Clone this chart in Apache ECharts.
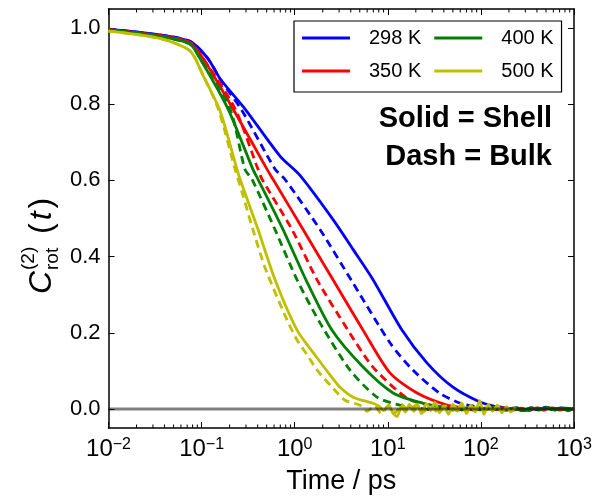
<!DOCTYPE html>
<html>
<head>
<meta charset="utf-8">
<script src="https://cdn.jsdelivr.net/npm/echarts@6/dist/echarts.min.js"></script>
<style>
html,body{margin:0;padding:0;background:#fff;}
#chart{width:602px;height:502px;}
</style>
</head>
<body>
<div id="chart"></div>
<script>
const FONT = '"Liberation Sans", Arial, sans-serif';

// axis ticks
const xTicks = [0.01, 0.1, 1, 10, 100, 1000];
const xMinorTicks = [0.02,0.03,0.04,0.05,0.06,0.07,0.08,0.09,
  0.2,0.3,0.4,0.5,0.6,0.7,0.8,0.9, 2,3,4,5,6,7,8,9,
  20,30,40,50,60,70,80,90, 200,300,400,500,600,700,800,900];
const yTicks = [0.0, 0.2, 0.4, 0.6, 0.8, 1.0];
const X_MIN = 0.01, X_MAX = 1000, Y_MIN = -0.05, Y_MAX = 1.05;

const legendNames = ['298 K', '400 K', '350 K', '500 K'];

// 298 K
const t298Shell = [0.01,0.0355,0.075,0.117,0.158,0.292,0.695,1.14,2.71,4.23,6.92,14.2,26.3,50.1,97.7,141,
  170,200,240,290,350,420,500,600,720,860,1000];
const c298Shell = [0.997,0.982,0.965,0.920,0.867,0.788,0.664,0.613,0.490,0.419,0.340,0.207,0.121,0.057,0.018,0.007,
  0.004,-0.002,0.003,-0.004,0.002,-0.003,0.005,-0.002,0.003,-0.004,0.002];
const t298Bulk = [0.01,0.0355,0.075,0.117,0.158,0.272,0.614,0.785,1.87,4.03,10.6,18.6,36.3,60.3,93.3,
  120,150,190,230,280,340,410,500,600,730,860,1000];
const c298Bulk = [0.997,0.982,0.965,0.920,0.866,0.783,0.630,0.603,0.471,0.339,0.173,0.102,0.041,0.015,0.005,
  -0.002,0.003,-0.003,0.002,-0.004,0.003,-0.002,0.004,-0.003,0.002,-0.003,0.002];

// 350 K
const t350Shell = [0.01,0.0355,0.075,0.104,0.217,0.505,0.585,1.23,2.58,5.42,10.6,20.6,43.3,67.6,
  85,110,140,180,220,270,330,400,480,580,700,840,1000];
const c350Shell = [0.996,0.980,0.962,0.920,0.788,0.629,0.603,0.471,0.339,0.207,0.094,0.042,0.010,0.002,
  -0.003,0.002,-0.002,0.004,-0.003,0.002,-0.004,0.003,-0.002,0.003,-0.003,0.002,-0.002];
const t350Bulk = [0.01,0.0355,0.075,0.104,0.229,0.404,0.446,0.936,1.74,3.73,6.93,16.1,28.4,46.8,
  60,80,105,135,175,225,290,370,470,600,780,1000];
const c350Bulk = [0.996,0.980,0.962,0.920,0.788,0.629,0.603,0.471,0.339,0.207,0.110,0.028,0.010,0.002,
  -0.003,0.002,-0.002,0.003,-0.004,0.002,-0.002,0.003,-0.003,0.002,-0.002,0.003];

// 400 K
const t400Shell = [0.01,0.0355,0.075,0.0962,0.192,0.356,0.404,0.750,1.32,2.51,5.42,11.4,23.9,41.2,
  55,75,100,130,170,220,280,350,430,520,620,740,870,1000];
const c400Shell = [0.995,0.978,0.958,0.920,0.788,0.629,0.603,0.471,0.339,0.207,0.110,0.042,0.015,0.004,
  -0.003,0.003,-0.002,0.004,-0.003,0.002,-0.004,0.003,-0.002,0.004,-0.003,0.002,-0.004,0.002];
const t400Bulk = [0.01,0.0355,0.075,0.0962,0.202,0.292,0.348,0.614,1.06,1.87,3.93,7.66,13.5,22.2,
  30,40,55,75,100,135,180,240,320,420,560,750,1000];
const c400Bulk = [0.995,0.978,0.958,0.920,0.788,0.629,0.603,0.471,0.339,0.226,0.102,0.031,0.010,0.002,
  -0.003,0.002,-0.002,0.003,-0.003,0.002,-0.002,0.003,-0.003,0.002,-0.002,0.003,-0.002];

// 500 K
const t500Shell = [0.01,0.0355,0.0751,0.104,0.158,0.240,0.259,0.404,0.615,1.06,1.66,2.51,3.07,4.23,6.92,
  8,9,10.2,11.4,12.6,14,15.5,17,19,21,23,26,29,32,36,40,45,50,56,62,70,78,87,97,108,120,134,150,168,188,210,235,262];
const c500Shell = [0.992,0.973,0.940,0.875,0.782,0.629,0.603,0.471,0.339,0.207,0.141,0.083,0.057,0.031,0.015,
  0.008,-0.004,0.010,-0.012,-0.020,0.006,-0.008,0.012,-0.006,0.010,-0.012,0.014,-0.004,0.018,-0.010,0.008,-0.014,0.012,-0.006,0.016,-0.012,0.010,-0.008,0.022,-0.014,0.012,-0.006,0.010,-0.010,0.006,-0.008,0.004];
const t500Bulk = [0.01,0.0355,0.0751,0.104,0.151,0.229,0.272,0.356,0.480,0.826,1.06,1.36,1.74,2.59,3.47,5.01,
  6,7.2,8.5,10,12,14,17,20,24,29,35,42,50,60,72,86,100];
const c500Bulk = [0.992,0.973,0.940,0.875,0.788,0.629,0.569,0.471,0.371,0.234,0.181,0.142,0.102,0.054,0.023,0.010,
  -0.006,0.008,-0.012,0.006,-0.010,0.012,-0.006,0.010,-0.008,0.006,-0.010,0.008,-0.004,0.010,-0.006,0.004,-0.002];

const COLORS = {'298 K':'#0000ff','350 K':'#ff0000','400 K':'#008000','500 K':'#bfbf00'};

function zip(t, c){ return t.map((v,i)=>[v, c[i]]); }
function mkSeries(name, t, c, dashed){
  const col = COLORS[dashed ? name.replace(' bulk','') : name];
  return {
    type:'line', name: name, data: zip(t,c), showSymbol:false, symbol:'none',
    xAxisIndex:0, yAxisIndex:0, smooth:0.25,
    lineStyle:{color: col, width:2.8, type: dashed ? [8,5] : 'solid'},
    itemStyle:{color: col},
    emphasis:{disabled:true}, animation:false, z:2
  };
}

const series = [
  mkSeries('298 K bulk', t298Bulk, c298Bulk, true),
  mkSeries('298 K', t298Shell, c298Shell, false),
  mkSeries('350 K bulk', t350Bulk, c350Bulk, true),
  mkSeries('350 K', t350Shell, c350Shell, false),
  mkSeries('400 K bulk', t400Bulk, c400Bulk, true),
  mkSeries('400 K', t400Shell, c400Shell, false),
  mkSeries('500 K bulk', t500Bulk, c500Bulk, true),
  mkSeries('500 K', t500Shell, c500Shell, false),
  {
    type:'custom', name:'minorTicks', xAxisIndex:0, yAxisIndex:0, silent:true, animation:false, z:5,
    data: xMinorTicks.map(v=>[v, 0]), encode:{x:0, y:1},
    renderItem: function(params, api){
      const v = api.value(0);
      const b = api.coord([v, Y_MIN]);
      const t = api.coord([v, Y_MAX]);
      return {type:'group', children:[
        {type:'line', shape:{x1:b[0], y1:b[1], x2:b[0], y2:b[1]-3.5}, style:{stroke:'#000', lineWidth:1}},
        {type:'line', shape:{x1:t[0], y1:t[1], x2:t[0], y2:t[1]+3.5}, style:{stroke:'#000', lineWidth:1}}
      ]};
    }
  },
  {
    type:'custom', name:'zeroLine', xAxisIndex:0, yAxisIndex:0, silent:true, animation:false, z:6,
    data: [[X_MIN, 0]], encode:{x:0, y:1},
    renderItem: function(params, api){
      const a = api.coord([X_MIN, 0]);
      const b = api.coord([X_MAX, 0]);
      return {type:'line', shape:{x1:a[0], y1:a[1], x2:b[0], y2:b[1]}, style:{stroke:'rgba(0,0,0,0.5)', lineWidth:3}};
    }
  }
];

const axisLineStyle = {show:true, onZero:false, lineStyle:{color:'#000', width:1.5}};

const chart = echarts.init(document.getElementById('chart'), null, {renderer:'canvas'});
chart.setOption({
  animation:false,
  backgroundColor:'#fff',
  grid:{left:108.5, right:28, top:9, bottom:74, containLabel:false},
  xAxis:[
    {type:'log', logBase:10, min:X_MIN, max:X_MAX, position:'bottom',
     axisLine:axisLineStyle,
     axisTick:{show:true, inside:true, length:6, customValues:xTicks, lineStyle:{color:'#000', width:1}},
     splitLine:{show:false},
     axisLabel:{show:true, customValues:xTicks, margin:9, showMinLabel:true, showMaxLabel:true,
       formatter:function(v){ const e = Math.round(Math.log10(v)); return '{b|10}{s|' + (e<0 ? '\u2212'+(-e) : e) + '}'; },
       rich:{ b:{fontFamily:FONT, fontSize:24, color:'#000'}, s:{fontFamily:FONT, fontSize:16, color:'#000', verticalAlign:'top'} }
     },
     name:'Time / ps', nameLocation:'middle', nameGap:40,
     nameTextStyle:{fontFamily:FONT, fontSize:27, color:'#000'}
    },
    {type:'log', logBase:10, min:X_MIN, max:X_MAX, position:'top',
     axisLine:axisLineStyle,
     axisTick:{show:true, inside:true, length:6, customValues:xTicks, lineStyle:{color:'#000', width:1}},
     splitLine:{show:false}, axisLabel:{show:false}
    }
  ],
  yAxis:[
    {type:'value', min:Y_MIN, max:Y_MAX, position:'left',
     axisLine:axisLineStyle,
     axisTick:{show:true, inside:true, length:6, customValues:yTicks, lineStyle:{color:'#000', width:1}},
     splitLine:{show:false},
     axisLabel:{show:true, customValues:yTicks, margin:8, fontFamily:FONT, fontSize:22, color:'#000',
       formatter:function(v){ return v.toFixed(1); }}
    },
    {type:'value', min:Y_MIN, max:Y_MAX, position:'right',
     axisLine:axisLineStyle,
     axisTick:{show:true, inside:true, length:6, customValues:yTicks, lineStyle:{color:'#000', width:1}},
     splitLine:{show:false}, axisLabel:{show:false}
    }
  ],
  legend:{
    show:true, orient:'horizontal', left:294, top:21, width:268,
    padding:[7,8,11,8], itemGap:13, itemWidth:48, itemHeight:3,
    backgroundColor:'#fff', borderColor:'#000', borderWidth:1.2, borderRadius:0,
    selectedMode:false, icon:'rect',
    textStyle:{fontFamily:FONT, fontSize:20, color:'#000', lineHeight:20, padding:[0,0,0,14]},
    data: legendNames.map(n=>({name:n, icon:'rect'}))
  },
  graphic:[
    {type:'text', right:50, top:104, style:{text:'Solid = Shell', fontFamily:FONT, fontSize:29, fontWeight:'bold', fill:'#000'}},
    {type:'text', right:50, top:142, style:{text:'Dash = Bulk', fontFamily:FONT, fontSize:29, fontWeight:'bold', fill:'#000'}},
    {type:'group', x:42, y:294, rotation:Math.PI/2, children:[
      {type:'text', x:0, y:0, style:{text:'C', fontFamily:FONT, fontSize:32, fontStyle:'italic', fill:'#000', verticalAlign:'middle', align:'left'}},
      {type:'text', x:24, y:-13, style:{text:'(2)', fontFamily:FONT, fontSize:19, fill:'#000', verticalAlign:'middle', align:'left'}},
      {type:'text', x:24, y:11, style:{text:'rot', fontFamily:FONT, fontSize:19, fill:'#000', verticalAlign:'middle', align:'left'}},
      {type:'text', x:60, y:0, style:{text:'{n|(}{i|t}{n|)}', fontFamily:FONT, fontSize:32, fill:'#000', verticalAlign:'middle', align:'left',
        rich:{n:{fontFamily:FONT, fontSize:32, fill:'#000'}, i:{fontFamily:FONT, fontSize:32, fontStyle:'italic', fill:'#000', padding:[0,3,0,3]}}}}
    ]}
  ],
  series: series
});
</script>
</body>
</html>
